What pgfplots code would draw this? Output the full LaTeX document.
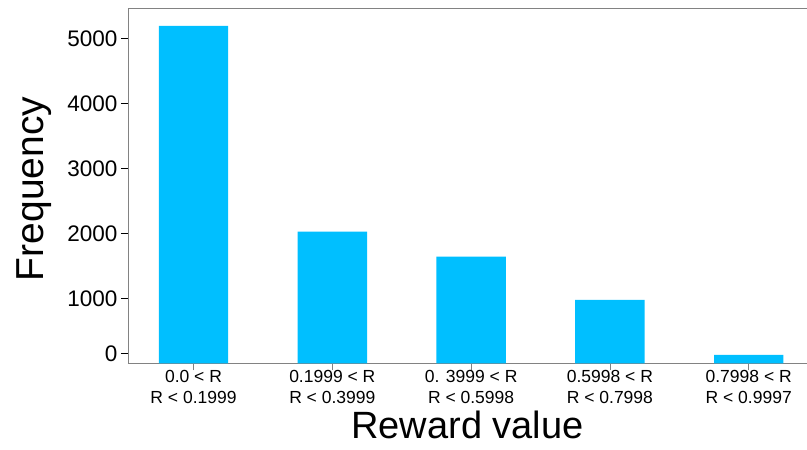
\documentclass[border=0pt]{standalone}
\usepackage{fontspec}
\setmainfont{Liberation Sans}
\usepackage{pgfplots}
\pgfplotsset{compat=1.18}
\definecolor{barblue}{RGB}{0,191,255}
\definecolor{spine}{RGB}{130,130,130}
\begin{document}
\begin{tikzpicture}
\begin{axis}[
  name=ax,
  width=679pt, height=355.3pt, scale only axis,
  xmin=-0.472, xmax=4.42,
  ymin=0, ymax=5466,
  axis x line=box, axis y line=left,
  axis line style={spine, line width=0.9pt, -},
  xtick pos=lower, ytick pos=left,
  tick align=outside,
  ybar, bar width=0.5,
  xtick={0,1,2,3,4},
  xticklabels={{0.0 < R\\R < 0.1999},{0.1999 < R\\R < 0.3999},{0. 3999 < R\\R < 0.5998},{0.5998 < R\\R < 0.7998},{0.7998 < R\\R < 0.9997}},
  ytick={154,1000,2000,3000,4000,5000},
  yticklabels={0,1000,2000,3000,4000,5000},
  x tick style={spine, line width=0.6pt},
  y tick style={black, line width=1.2pt},
  major tick length=7pt,
  x tick label style={align=center, font=\fontsize{17.5}{21}\selectfont, yshift=4pt},
  y tick label style={font=\fontsize{22.5}{24}\selectfont},
  xlabel={Reward value},
  ylabel={Frequency},
  xlabel style={font=\fontsize{38}{40}\selectfont, at={(axis description cs:0.5,0)}, anchor=base, yshift=-75pt},
  ylabel style={font=\fontsize{39}{40}\selectfont, at={(axis description cs:0,0.5)}, anchor=base, yshift=84.7pt, xshift=-3.3pt},
]
\addplot[fill=barblue, draw=none] coordinates {(0,5190) (1,2025) (2,1640) (3,974) (4,128)};
\end{axis}
\pgfresetboundingbox
\path[use as bounding box] ([shift={(-128pt,-86.7pt)}]ax.south west) rectangle ([shift={(0pt,8pt)}]ax.north east);
\end{tikzpicture}
\end{document}
